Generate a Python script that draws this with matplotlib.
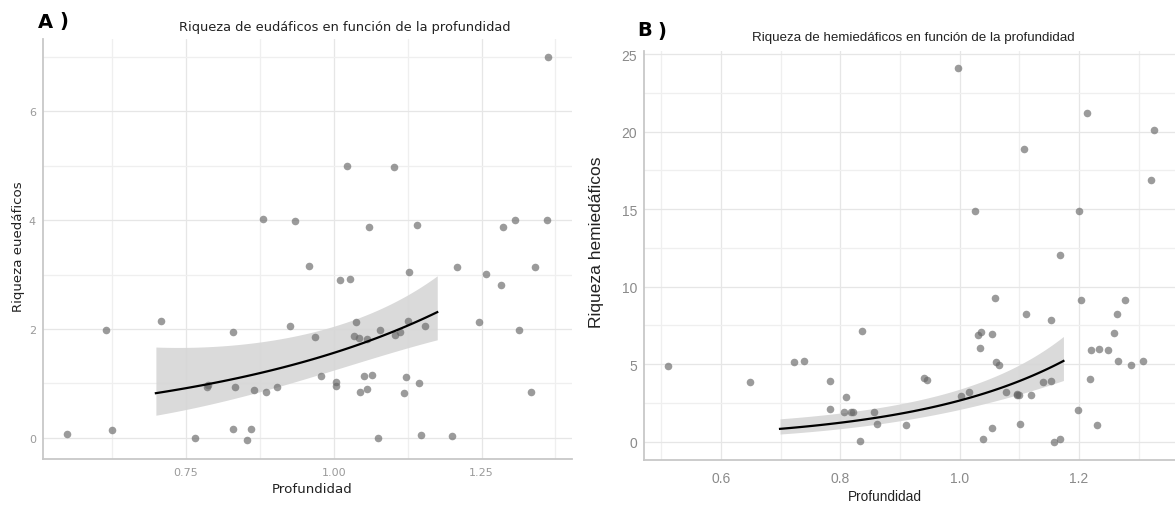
import matplotlib
matplotlib.use("Agg")
import matplotlib.pyplot as plt
from matplotlib import font_manager
import numpy as np

# ---- Panel A: eudaphic richness vs depth ----
prof_a = [0.549, 0.614, 0.624, 0.708, 0.766, 0.785, 0.787, 0.830, 0.833, 0.830,
          0.860, 0.853, 0.865, 0.886, 0.904, 0.926, 0.881, 0.935, 1.023, 1.102,
          1.060, 1.140, 1.287, 1.306, 1.360, 1.363, 0.958, 1.010, 1.027, 1.127,
          1.208, 1.257, 1.283, 1.341, 0.968, 1.038, 1.035, 1.042, 1.056, 1.078,
          1.104, 1.112, 1.125, 1.155, 1.246, 1.314, 0.979, 1.004, 1.004, 1.051,
          1.064, 1.044, 1.056, 1.122, 1.119, 1.144, 1.333, 1.075, 1.147, 1.200]
riq_a = [0.07, 1.99, 0.14, 2.14, 0.00, 0.93, 0.97, 1.94, 0.94, 0.16,
         0.16, -0.04, 0.87, 0.85, 0.94, 2.05, 4.03, 3.98, 4.99, 4.97,
         3.87, 3.92, 3.87, 4.01, 4.00, 7.00, 3.15, 2.90, 2.92, 3.05,
         3.14, 3.01, 2.81, 3.13, 1.86, 2.13, 1.87, 1.84, 1.82, 1.99,
         1.89, 1.94, 2.15, 2.05, 2.13, 1.99, 1.13, 1.02, 0.96, 1.14,
         1.15, 0.84, 0.90, 1.12, 0.83, 1.00, 0.85, 0.00, 0.06, 0.04]

# fitted curve with confidence band
fit_x_a = [0.699, 0.75, 0.875, 1.00, 1.062, 1.124, 1.175]
fit_y_a = [0.81, 0.93, 1.18, 1.56, 1.79, 2.06, 2.31]
fit_lo_a = [0.41, 0.53, 0.84, 1.24, 1.45, 1.67, 1.79]
fit_hi_a = [1.64, 1.69, 1.79, 2.00, 2.28, 2.65, 2.98]

# ---- Panel B: hemiedaphic richness vs depth ----
prof_b = [0.512, 0.649, 0.723, 0.739, 0.782, 0.783, 0.810, 0.807, 0.818, 0.821,
          0.836, 0.833, 0.857, 0.862, 0.910, 0.941, 0.946, 1.003, 1.016, 1.030,
          1.036, 1.055, 1.035, 1.059, 1.061, 1.066, 1.039, 1.055, 1.078, 1.096,
          1.099, 1.097, 1.101, 1.112, 1.120, 1.140, 1.153, 1.154, 1.169, 1.159,
          1.168, 1.198, 1.204, 1.218, 1.221, 1.233, 1.231, 1.248, 1.259, 1.263,
          1.266, 1.278, 1.287, 1.307, 0.998, 1.214, 1.326, 1.108, 1.321, 1.025,
          1.200]
riq_b = [4.86, 3.87, 5.11, 5.18, 3.89, 2.11, 2.88, 1.93, 1.93, 1.93,
         7.11, 0.07, 1.93, 1.14, 1.10, 4.10, 3.98, 2.97, 3.22, 6.90,
         7.09, 6.94, 6.06, 9.24, 5.12, 4.96, 0.19, 0.90, 3.18, 3.01,
         3.03, 3.05, 1.14, 8.23, 3.01, 3.87, 3.93, 7.88, 12.07, 0.00,
         0.17, 2.04, 9.17, 4.06, 5.89, 5.97, 1.10, 5.93, 7.00, 8.21,
         5.18, 9.11, 4.92, 5.18, 24.08, 21.18, 20.08, 18.88, 16.88, 14.88,
         14.88]

fit_x_b = [0.699, 0.799, 0.900, 1.000, 1.101, 1.174]
fit_y_b = [0.82, 1.25, 1.78, 2.64, 3.93, 5.22]
fit_lo_b = [0.50, 0.82, 1.35, 2.11, 3.07, 3.93]
fit_hi_b = [1.46, 1.89, 2.43, 3.29, 5.11, 6.73]

W, H = 1175, 506
fig = plt.figure(figsize=(W / 100, H / 100), dpi=100)


def box(l, t, r, b):
    return [l / W, 1 - b / H, (r - l) / W, (b - t) / H]


def px(x, y):
    return x / W, 1 - y / H


def smooth(xs, ys, n=120):
    """Smooth curve through log-link fit values (quadratic on the log scale)."""
    xs = np.asarray(xs, float)
    coef = np.polyfit(xs, np.log(np.asarray(ys, float)), 2)
    grid = np.linspace(xs.min(), xs.max(), n)
    return grid, np.exp(np.polyval(coef, grid))


installed = {f.name for f in font_manager.fontManager.ttflist}
narrow = "Liberation Sans Narrow" if "Liberation Sans Narrow" in installed else "Liberation Sans"
wide = "DejaVu Sans"

pt_color = "#666666"


def style(ax, xmaj, xmin, ymaj, ymin, xlabels, tick_color, family, tick_size, xpad, ypad):
    ax.set_xticks(xmaj)
    ax.set_xticklabels(xlabels)
    ax.set_xticks(xmin, minor=True)
    ax.set_yticks(ymaj)
    ax.set_yticks(ymin, minor=True)
    ax.grid(True, which="major", color="#e6e6e6", lw=0.9)
    ax.grid(True, which="minor", color="#efefef", lw=0.9)
    ax.set_axisbelow(True)
    for s in ("top", "right"):
        ax.spines[s].set_visible(False)
    for s in ("left", "bottom"):
        ax.spines[s].set_color("#c8c8c8")
        ax.spines[s].set_linewidth(1.3)
    ax.tick_params(which="both", length=0)
    ax.tick_params(axis="x", pad=xpad)
    ax.tick_params(axis="y", pad=ypad)
    for lab in ax.get_xticklabels() + ax.get_yticklabels():
        lab.set_color(tick_color)
        lab.set_family(family)
        lab.set_fontsize(tick_size)


def draw_fit(ax, fx, fy, flo, fhi):
    gx, gy = smooth(fx, fy)
    _, glo = smooth(fx, flo)
    _, ghi = smooth(fx, fhi)
    ax.fill_between(gx, glo, ghi, color="#d6d6d6", alpha=0.9, lw=0, zorder=2)
    ax.plot(gx, gy, color="black", lw=1.6, zorder=4)


# Panel A
axA = fig.add_axes(box(43, 40, 572, 460))
draw_fit(axA, fit_x_a, fit_y_a, fit_lo_a, fit_hi_a)
axA.scatter(prof_a, riq_a, s=30, color=pt_color, alpha=0.65, lw=0, zorder=3)
axA.set_xlim(0.508, 1.403)
axA.set_ylim(-0.39, 7.33)
style(axA, [0.75, 1.0, 1.25], [0.625, 0.875, 1.125, 1.375], [0, 2, 4, 6], [1, 3, 5, 7],
      ["0.75", "1.00", "1.25"], "#9a9a9a", wide, 8, 6, 5)

fig.text(*px(38, 22), "A", fontsize=14, fontweight="bold", family=wide, ha="left", va="center")
fig.text(*px(59, 22), ")", fontsize=14, fontweight="bold", family=wide, ha="left", va="center")
fig.text(*px(179, 27), "Riqueza de eudáficos en función de la profundidad", fontsize=9.4,
         family=wide, ha="left", va="center", color="#222222")
fig.text(*px(19, 247), "Riqueza euedáficos", fontsize=9.6, family=wide, rotation=90,
         ha="center", va="center", color="#222222")
fig.text(*px(312, 490), "Profundidad", fontsize=9.6, family=wide, ha="center", va="center",
         color="#222222")

# Panel B
axB = fig.add_axes(box(644, 52, 1175, 461))
draw_fit(axB, fit_x_b, fit_y_b, fit_lo_b, fit_hi_b)
axB.scatter(prof_b, riq_b, s=30, color=pt_color, alpha=0.65, lw=0, zorder=3)
axB.set_xlim(0.471, 1.361)
axB.set_ylim(-1.18, 25.2)
style(axB, [0.6, 0.8, 1.0, 1.2], [0.5, 0.7, 0.9, 1.1, 1.3], [0, 5, 10, 15, 20, 25],
      [2.5, 7.5, 12.5, 17.5, 22.5], ["0.6", "0.8", "1.0", "1.2"], "#8a8a8a", narrow, 10, 8, 5)

fig.text(*px(637, 31), "B", fontsize=14, fontweight="bold", family=wide, ha="left", va="center")
fig.text(*px(657, 31), ")", fontsize=14, fontweight="bold", family=wide, ha="left", va="center")
fig.text(*px(752, 38), "Riqueza de hemiedáficos en función de la profundidad", fontsize=9.6,
         family=narrow, ha="left", va="center", color="#222222")
fig.text(*px(597, 242), "Riqueza hemiedáficos", fontsize=12.5, family=narrow, rotation=90,
         ha="center", va="center", color="#222222")
fig.text(*px(885, 497), "Profundidad", fontsize=9.8, family=narrow, ha="center", va="center",
         color="#222222")

fig.savefig("out.png", dpi=100)
